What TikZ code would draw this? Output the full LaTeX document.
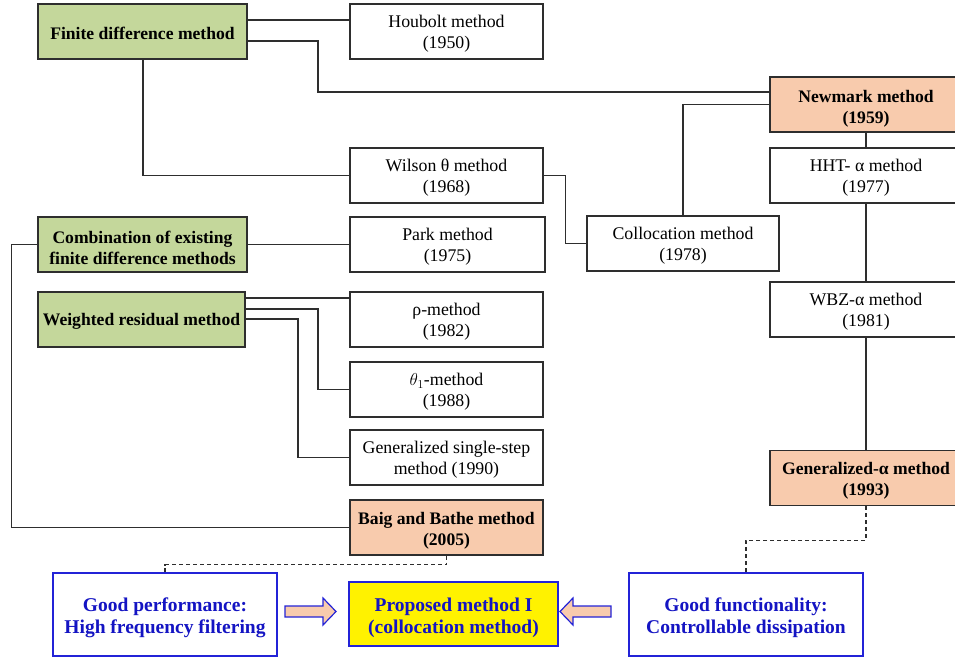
\documentclass[tikz,border=0pt]{standalone}
\usepackage{fontspec}
\setmainfont{Liberation Serif}
\definecolor{gfill}{HTML}{C4D79B}
\definecolor{pfill}{HTML}{F8CBAD}
\definecolor{btext}{RGB}{20,20,195}
\definecolor{bline}{RGB}{35,35,215}
\definecolor{lcol}{HTML}{2E2E2E}
\newcommand\tstr[1]{\rule{0pt}{#1pt}}
\tikzset{
  base/.style={draw=lcol, line width=1.2pt, inner sep=0pt, align=center,
    font=\fontsize{17.8}{21}\selectfont},
  onel/.style={execute at begin node={\rule{0pt}{16pt}}},
  wbox/.style={base, fill=white},
  gbox/.style={base, fill=gfill, font=\fontsize{17.6}{21}\selectfont\bfseries},
  pbox/.style={base, fill=pfill, font=\fontsize{17.6}{21}\selectfont\bfseries},
  bbox/.style={base, draw=bline, text=btext, font=\fontsize{19.5}{22}\selectfont\bfseries},
  conn/.style={draw=lcol, line width=1.2pt},
  dconn/.style={draw=lcol, line width=1.2pt, dash pattern=on 4pt off 3pt},
  barrow/.style={draw=bline, fill=pfill, line width=1.2pt, line join=miter}
}
\begin{document}
\begin{tikzpicture}[x=1pt,y=-1pt]
\useasboundingbox (0,0) rectangle (955,657);
\clip (0,0) rectangle (955,657);
% left column
\node[gbox, onel, minimum width=209pt, minimum height=55pt] (fdm) at (142.5,31.5) {Finite difference method};
\node[gbox, minimum width=209pt, minimum height=55pt] (comb) at (142.5,244.5) {\tstr{19.5}Combination of existing\\finite difference methods};
\node[gbox, onel, minimum width=207pt, minimum height=55pt] (wr) at (141.5,319.5) {Weighted residual method};
% middle column
\node[wbox, minimum width=193pt, minimum height=55pt] (houbolt) at (446.5,31.5) {\tstr{17.5}Houbolt method\\(1950)};
\node[wbox, minimum width=193pt, minimum height=55pt] (wilson) at (446.5,175.5) {\tstr{17.5}Wilson θ method\\(1968)};
\node[wbox, minimum width=195pt, minimum height=55pt] (park) at (447.5,244.5) {\tstr{17.5}Park method\\(1975)};
\node[wbox, minimum width=193pt, minimum height=55pt] (rho) at (446.5,319.5) {\tstr{17.5}ρ-method\\(1982)};
\node[wbox, minimum width=193pt, minimum height=55pt] (theta) at (446.5,389.5) {\tstr{17.5}$\theta_1$-method\\(1988)};
\node[wbox, minimum width=193pt, minimum height=55pt] (gss) at (446.5,457.5) {\tstr{17.5}Generalized single-step\\method (1990)};
\node[pbox, minimum width=193pt, minimum height=55pt] (baig) at (446.5,527.5) {\tstr{19}Baig and Bathe method\\(2005)};
\node[wbox, minimum width=192pt, minimum height=55pt] (colloc) at (683,243.5) {\tstr{17.5}Collocation method\\(1978)};
% right column
\node[pbox, minimum width=192pt, minimum height=55pt] (newmark) at (866,104.5) {\tstr{21}Newmark method\\(1959)};
\node[wbox, minimum width=192pt, minimum height=55pt] (hht) at (866,175.5) {\tstr{17.5}HHT- α method\\(1977)};
\node[wbox, minimum width=192pt, minimum height=55pt] (wbz) at (866,309.5) {\tstr{17.5}WBZ-α method\\(1981)};
\node[pbox, minimum width=192pt, minimum height=55pt] (gena) at (866,478) {\tstr{18}Generalized-α method\\(1993)};
% bottom row
\node[bbox, fill=white, minimum width=224pt, minimum height=83pt] (perf) at (165,614.5) {\tstr{20.5}Good performance:\\High frequency filtering};
\node[bbox, fill=yellow, minimum width=209pt, minimum height=64pt] (prop) at (453.5,614) {\tstr{20.5}Proposed method I\\(collocation method)};
\node[bbox, fill=white, minimum width=234pt, minimum height=83pt] (func) at (746,614.5) {\tstr{20.5}Good functionality:\\Controllable dissipation};
% connectors
\draw[conn] (fdm.east |- 0,20) -- (houbolt.west |- 0,20);
\draw[conn] (fdm.east |- 0,41) -- (318,41) |- (newmark.west |- 0,92);
\draw[conn] (fdm.south -| 143,0) |- (wilson.west);
\draw[conn] (wilson.east) -- ++(22,0) |- (colloc.west);
\draw[conn] (colloc.north) |- (newmark.west);
\draw[conn] (newmark.south) -- (hht.north);
\draw[conn] (hht.south) -- (wbz.north);
\draw[conn] (wbz.south) -- (gena.north);
\draw[conn] (comb.east) -- (park.west);
\draw[conn] (comb.west) -- ++(-26,0) |- (baig.west);
\draw[conn] (wr.east |- 0,298) -- (rho.west |- 0,298);
\draw[conn] (wr.east |- 0,309) -- (318,309) |- (theta.west);
\draw[conn] (wr.east |- 0,319) -- (298,319) |- (gss.west);
\draw[dconn] (baig.south) -- ++(0,9) -| (perf.north);
\draw[dconn] (gena.south) -- ++(0,34) -| (func.north);
% block arrows
\draw[barrow] (285,606) -- (323,606) -- (323,598) -- (336,611.5) -- (323,625) -- (323,617) -- (285,617) -- cycle;
\draw[barrow] (611,606) -- (573,606) -- (573,598) -- (560,611.5) -- (573,625) -- (573,617) -- (611,617) -- cycle;
\end{tikzpicture}
\end{document}
